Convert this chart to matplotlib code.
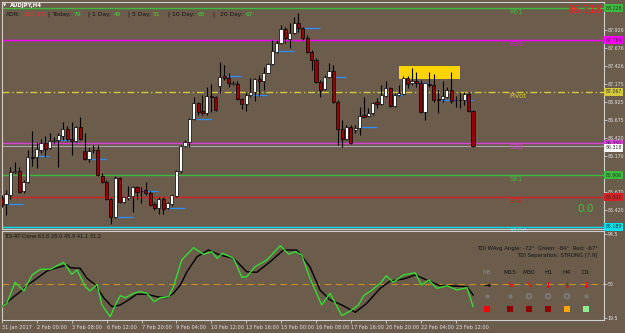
import matplotlib
matplotlib.use('Agg')
import matplotlib.pyplot as plt

W, H = 625, 333
BG = '#6b5c4c'
AXC = '#d0d0d0'

# AUDJPY H4 candles, 31 Jan 2017 16:00 onwards
opens = [85.588, 85.509, 85.634, 85.957, 85.967, 85.689, 85.818, 86.166, 86.157, 86.259,
         86.352, 86.282, 86.384, 86.398, 86.453, 86.554, 86.411, 86.388, 86.574, 86.245,
         86.129, 86.254, 86.259, 85.902, 85.814, 85.574, 85.324, 85.866, 85.541, 85.596,
         85.620, 85.749, 85.689, 85.703, 85.657, 85.509, 85.449, 85.574, 85.449, 85.509,
         85.620, 85.967, 86.314, 86.374, 86.685, 86.907, 86.804, 86.768, 87.009, 86.991,
         87.148, 87.286, 87.254, 87.175, 87.175, 86.963, 86.893, 87.018, 87.068, 87.241,
         87.221, 87.332, 87.453, 87.624, 87.741, 87.935, 87.796, 87.879, 88.018, 87.949,
         87.810, 87.624, 87.509, 87.207, 87.102, 87.268, 87.360, 86.929, 86.546, 86.407,
         86.582, 86.536, 86.568, 86.745, 86.731, 86.768, 86.925, 86.893, 87.013, 87.116,
         86.870, 87.023, 87.032, 87.254, 87.185, 87.221, 87.193, 86.791, 87.175, 87.157,
         86.963, 86.963, 86.999, 87.092, 86.953, 86.949, 86.953, 87.032, 86.804]
highs = [85.634, 85.703, 86.018, 86.096, 86.018, 85.842, 86.259, 86.527, 86.374, 86.416,
         86.453, 86.491, 86.435, 86.491, 86.648, 86.592, 86.643, 86.592, 86.721, 86.491,
         86.282, 86.328, 86.328, 85.935, 85.842, 85.588, 85.898, 85.888, 85.610, 85.759,
         85.759, 85.759, 85.749, 85.818, 85.689, 85.541, 85.610, 85.610, 85.541, 85.648,
         85.981, 86.328, 86.398, 86.699, 86.991, 86.929, 87.023, 87.138, 87.175, 87.009,
         87.485, 87.439, 87.324, 87.221, 87.221, 86.977, 87.046, 87.254, 87.254, 87.300,
         87.416, 87.463, 87.786, 87.786, 87.995, 87.971, 88.018, 88.110, 88.166, 87.971,
         87.856, 87.648, 87.532, 87.231, 87.300, 87.463, 87.439, 86.953, 86.675, 86.606,
         86.606, 86.606, 86.860, 86.999, 86.838, 86.929, 86.977, 87.161, 87.217, 87.138,
         87.046, 87.161, 87.286, 87.286, 87.393, 87.346, 87.231, 87.193, 87.346, 87.314,
         87.092, 87.221, 87.138, 87.346, 87.009, 87.046, 87.068, 87.068, 86.814]
lows = [85.471, 85.356, 85.574, 85.935, 85.657, 85.666, 85.804, 86.036, 86.004, 86.213,
        86.166, 86.268, 86.360, 86.018, 86.398, 86.388, 86.189, 86.374, 86.398, 86.120,
        86.096, 86.221, 85.898, 85.796, 85.564, 85.231, 85.318, 85.527, 85.527, 85.564,
        85.402, 85.582, 85.527, 85.634, 85.485, 85.425, 85.370, 85.370, 85.439, 85.481,
        85.610, 85.935, 86.296, 86.304, 86.675, 86.745, 86.745, 86.745, 86.791, 86.804,
        87.054, 87.231, 87.138, 87.161, 86.953, 86.824, 86.800, 86.999, 86.943, 87.009,
        87.092, 87.324, 87.439, 87.602, 87.731, 87.741, 87.671, 87.870, 87.902, 87.786,
        87.602, 87.370, 87.185, 86.999, 87.092, 87.254, 86.916, 86.328, 86.296, 86.398,
        86.345, 86.491, 86.467, 86.713, 86.721, 86.745, 86.838, 86.884, 86.999, 86.860,
        86.860, 87.009, 87.023, 87.116, 87.161, 87.138, 86.777, 86.675, 87.138, 86.929,
        86.768, 86.929, 86.977, 86.916, 86.860, 86.838, 86.884, 86.791, 86.296]
closes = [85.495, 85.643, 85.957, 85.967, 85.679, 85.818, 86.166, 86.148, 86.268, 86.352,
          86.277, 86.379, 86.391, 86.463, 86.554, 86.407, 86.388, 86.574, 86.416, 86.129,
          86.245, 86.263, 85.907, 85.810, 85.574, 85.324, 85.866, 85.541, 85.602, 85.620,
          85.749, 85.679, 85.685, 85.657, 85.495, 85.449, 85.574, 85.439, 85.518, 85.634,
          85.967, 86.318, 86.374, 86.685, 86.907, 86.791, 86.777, 87.009, 86.991, 86.814,
          87.277, 87.254, 87.193, 87.193, 86.963, 86.893, 87.018, 87.068, 87.241, 87.221,
          87.332, 87.449, 87.638, 87.749, 87.935, 87.810, 87.879, 88.018, 87.949, 87.810,
          87.624, 87.509, 87.207, 87.092, 87.268, 87.360, 86.929, 86.546, 86.416, 86.582,
          86.352, 86.568, 86.731, 86.721, 86.768, 86.916, 86.893, 87.023, 87.116, 86.870,
          87.023, 87.046, 87.254, 87.175, 87.221, 87.193, 86.791, 87.185, 87.157, 86.953,
          86.957, 87.009, 87.092, 86.939, 86.949, 86.953, 87.032, 86.804, 86.318]

time_labels = ['31 Jan 2017', '2 Feb 00:00', '3 Feb 08:00', '6 Feb 12:00', '7 Feb 20:00',
               '9 Feb 04:00', '10 Feb 12:00', '13 Feb 16:00', '15 Feb 00:00', '16 Feb 08:00',
               '17 Feb 16:00', '20 Feb 20:00', '22 Feb 04:00', '23 Feb 12:00']
time_label_bars = [0, 8, 16, 24, 32, 40, 48, 56, 64, 72, 80, 88, 96, 104]

# fibo pivot levels
level_names = ['R61', 'R38', 'Pivot', 'S38', 'S61', 'S78', 'S100']
level_prices = [88.228, 87.784, 87.067, 86.350, 85.906, 85.602, 85.189]
level_colors = ['#3cbc3c', '#ff00ff', '#d6c83c', '#e03ce0', '#3cbc3c', '#d42020', '#00e0f0']
bid = 86.318

# 85.920 sits under the S61 box, so it is left out
price_ticks = [87.926, 87.676, 87.426, 87.175, 86.925, 86.675, 86.420, 86.170, 85.670, 85.420]

# short blue level marks (start bar, end bar, price)
mark_start = [1.2, 8.1, 13.4, 20.2, 26.4, 32.4, 38.1, 44.5, 51.6, 57.4, 63.3, 69.0, 76.4, 82.3, 88.5, 94.3, 100.4, 105.7]
mark_end = [4.9, 10.8, 17.5, 23.9, 30.1, 35.8, 42.0, 47.9, 54.8, 60.8, 67.0, 72.9, 78.9, 86.0, 91.9, 97.9, 104.3, 108.0]
mark_price = [85.504, 86.171, 86.393, 86.130, 85.328, 85.685, 85.449, 86.685, 87.286, 87.023,
              87.634, 87.949, 87.268, 86.574, 87.023, 87.185, 86.953, 86.953]

# yellow zone
zone_bars = (91.0, 105.0)
zone_prices = (87.245, 87.425)

# TDI lines (bar, value)
green_x = [0, 1.1, 3.0, 5.0, 6.9, 8.8, 11.1, 14.1, 16.0, 17.2, 19.1, 20.2, 21.8, 22.9, 24.8, 26.0,
           27.1, 28.3, 30.2, 31.7, 33.2, 34.9, 36.3, 38.2, 39.3, 41.2, 43.9, 46.2, 48.1, 49.3,
           50.6, 53.1, 55.0, 56.1, 58.0, 60.7, 63.8, 65.7, 67.2, 68.7, 70.6, 73.3, 75.2, 77.9,
           79.8, 81.7, 82.9, 84.8, 86.7, 88.1, 89.7, 92.0, 94.7, 96.2, 97.8, 99.7, 102.0, 104.3,
           106.6, 108.0]
green_v = [29.6, 32.6, 51.4, 43.6, 57.9, 63.0, 63.0, 69.2, 58.5, 62.4, 47.4, 43.6, 49.6, 31.1,
           20.7, 31.1, 39.4, 37.6, 41.6, 43.0, 41.6, 34.1, 37.6, 38.5, 47.4, 71.3, 82.3, 76.4,
           78.7, 72.8, 77.3, 72.8, 55.8, 56.4, 65.3, 71.3, 84.1, 76.4, 78.7, 75.7, 54.9, 31.1,
           41.6, 21.6, 25.7, 31.1, 39.4, 44.5, 50.5, 57.3, 51.4, 57.9, 59.9, 49.0, 53.4, 46.0,
           48.3, 44.5, 46.6, 29.6]
black_x = [0, 2.7, 4.2, 6.1, 8.0, 10.3, 12.6, 14.9, 15.7, 17.9, 19.5, 21.4, 23.3, 25.2, 27.1,
           29.0, 30.9, 33.2, 35.5, 37.8, 39.3, 40.9, 42.4, 44.7, 47.3, 50.0, 53.1, 56.1, 58.4,
           61.5, 64.5, 67.6, 70.6, 72.9, 75.2, 77.9, 81.0, 83.6, 86.7, 89.0, 92.0, 94.7, 97.4,
           100.4, 103.5, 106.6, 108.0]
black_v = [29.6, 38.5, 43.0, 49.6, 54.9, 61.5, 64.4, 66.8, 64.4, 63.9, 54.9, 49.0, 37.6, 29.6,
           31.1, 35.6, 40.7, 40.7, 38.5, 37.6, 41.6, 49.0, 60.8, 74.2, 80.2, 75.7, 72.8, 60.8,
           60.3, 69.8, 80.2, 80.2, 65.3, 44.5, 35.6, 31.1, 24.6, 32.6, 46.0, 52.5, 54.3, 57.9,
           53.4, 48.3, 48.1, 47.4, 40.0]

adr_pct = '120.1%'
adr_labels = ['Today:', '1 Day:', '5 Day:', '10 Day:', '20 Day:']
adr_values = ['79', '49', '51', '65', '67']

tf_names = ['M5', 'M15', 'M30', 'H1', 'H4', 'D1']
tf_arrows = ['\u2192', '\u2198', '\u2198', '\u2193', '\u2193', '\u2193']
tf_arrow_colors = ['black', 'red', 'red', 'red', 'red', 'red']
tf_ring = [False, False, True, True, True, False]
tf_box_colors = ['#ff0000', '#8b0000', '#8b0000', '#8b0000', '#ffa500', '#90ee90']


fig = plt.figure(figsize=(W / 100, H / 100), dpi=100, facecolor=BG)


def px_axes(x0, y0, x1, y1):
    return fig.add_axes([x0 / W, 1 - y1 / H, (x1 - x0) / W, (y1 - y0) / H])


def ptext(x, y, s, **kw):
    fig.text(x / W, 1 - y / H, s, **kw)


ax = px_axes(2, 2, 604, 229)
ax2 = px_axes(2, 231, 604, 320)
for a in (ax, ax2):
    a.set_facecolor(BG)
    a.set_xlim(0.07, 138.0)
    for sp in a.spines.values():
        sp.set_color(AXC)
        sp.set_linewidth(0.8)

ax.set_ylim(85.161, 88.314)
ax2.set_ylim(17.7, 97.2)

# pivot levels
for name, p, c in zip(level_names, level_prices, level_colors):
    if name == 'Pivot':
        ax.axhline(p, color=c, lw=1.0, ls=(0, (5, 2, 1, 2)), zorder=1)
    else:
        ax.axhline(p, color=c, lw=1.0, zorder=1)
    ax.text(116.3, p - 0.012, name, color=c, fontsize=5, va='top', ha='left', zorder=2)
ax.axhline(bid, color='#a8a8a8', lw=0.8, zorder=1)

# yellow zone
ax.add_patch(plt.Rectangle((zone_bars[0], zone_prices[0]), zone_bars[1] - zone_bars[0],
                           zone_prices[1] - zone_prices[0], fc='#ffd400', ec='none', zorder=1.5))

# blue marks
ax.hlines(mark_price, mark_start, mark_end, color='#2f8fff', lw=0.9, zorder=2)

# candles
idx = list(range(len(opens)))
ax.vlines(idx, lows, highs, color='black', lw=0.8, zorder=3)
bottoms = [min(o, c) for o, c in zip(opens, closes)]
heights = [max(abs(c - o), 0.006) for o, c in zip(opens, closes)]
cols = ['white' if c >= o else '#9a0000' for o, c in zip(opens, closes)]
ax.bar(idx, heights, bottom=bottoms, width=0.72, color=cols, edgecolor='black',
       linewidth=0.5, zorder=4)

# right price axis
ax.set_xticks([])
ax.set_yticks(price_ticks)
ax.set_yticklabels(['%.3f' % t for t in price_ticks])
ax.tick_params(axis='y', left=False, labelleft=False, right=True, labelright=True,
               length=2, width=0.6, color=AXC, labelcolor='#e4e4e4', labelsize=3.4, pad=0.8)
for p, c in zip(level_prices, level_colors):
    ax.text(1.002, p, '%.3f' % p, transform=ax.get_yaxis_transform(), fontsize=3.3,
            color='#303030', va='center', ha='left', clip_on=False, zorder=10,
            bbox=dict(boxstyle='square,pad=0.3', fc=c, ec='none'))
# bid label hangs just under the S38 box
ax.text(1.002, bid - 0.03, '%.3f' % bid, transform=ax.get_yaxis_transform(), fontsize=3.3,
        color='#303030', va='center', ha='left', clip_on=False, zorder=11,
        bbox=dict(boxstyle='square,pad=0.3', fc='white', ec='none'))

ax.text(137.6, 88.203, '86.318', color='#ff1a1a', fontsize=7.2, ha='right', va='center', zorder=6)
ax.text(131.8, 85.44, '0.0', color='#33cc33', fontsize=7.5, ha='left', va='center', zorder=6)

# header
ptext(3, 5.5, '\u25bc', color='white', fontsize=3, va='center')
ptext(9.5, 5.5, 'AUDJPY,H4', color='white', fontsize=3.9, fontweight='bold', va='center')
dark = '#141414'
green = '#33e033'
ptext(6, 14.5, 'ADR:', color=dark, fontsize=4.3, va='center')
ptext(23.5, 14.5, adr_pct, color='#ff2a2a', fontsize=4.3, va='center')
sep_x = [47.5, 87.5, 127.5, 167.5, 212.5]
lab_x = [52.5, 92.5, 131.5, 171.5, 219.5]
val_x = [73.5, 113.5, 152.5, 197.5, 245.5]
for sx, lx, vx, lab, val in zip(sep_x, lab_x, val_x, adr_labels, adr_values):
    ptext(sx, 14.5, '|', color=dark, fontsize=4.3, va='center')
    ptext(lx, 14.5, lab, color=dark, fontsize=4.3, va='center')
    ptext(vx, 14.5, val, color=green, fontsize=4.3, va='center')

# TDI panel
ax2.axhline(50, color='#c8901c', lw=0.8, ls=(0, (6, 4)), zorder=1)
ax2.plot(black_x, black_v, color='black', lw=1.0, zorder=3)
ax2.plot(green_x, green_v, color='#33dd33', lw=1.0, zorder=4)
ax2.set_yticks([94.5, 50, 19.5])
ax2.set_yticklabels(['94.5', '50', '19.5'])
ax2.tick_params(axis='y', left=False, labelleft=False, right=True, labelright=True,
                length=2, width=0.6, color=AXC, labelcolor='#e4e4e4', labelsize=3.4, pad=0.8)
ax2.set_xticks(time_label_bars)
ax2.set_xticklabels(time_labels)
ax2.tick_params(axis='x', length=2, width=0.6, color=AXC, labelcolor='#e4e4e4',
                labelsize=3.6, pad=1.5)
for lbl in ax2.get_xticklabels():
    lbl.set_ha('left')

ptext(4, 236, 'TDI-RT-Clone 63.8 28.0 45.9 41.1 31.2', color=dark, fontsize=3.7, va='center')
ptext(598, 248.5, 'TDI WAvg Angle: -72\u00b0  Green: -84\u00b0  Red: -67\u00b0', color=dark,
      fontsize=3.9, va='center', ha='right')
ptext(598, 256, 'TDI Seperation: STRONG [7.9]', color=dark, fontsize=3.9, va='center', ha='right')

tf_x = [111.2, 116.5, 120.8, 125.2, 129.5, 133.9]
for i, (x, name) in enumerate(zip(tf_x, tf_names)):
    ax2.text(x, 60.5, name, color='#8c8c8c' if i == 0 else dark, fontsize=4.3,
             ha='center', va='center', zorder=5)
    ax2.text(x, 48.9, tf_arrows[i], color=tf_arrow_colors[i], fontsize=6, fontweight='bold',
             ha='center', va='center', zorder=5)
    if tf_ring[i]:
        ax2.scatter([x], [39.0], s=12, facecolor='none', edgecolor='#808080', lw=1.1, zorder=5)
    else:
        ax2.scatter([x], [39.0], s=9, color='#7a7a7a', lw=0, zorder=5)
    ax2.scatter([x], [27.4], s=14, marker='s', color=tf_box_colors[i], lw=0, zorder=5)

fig.savefig('out.png', dpi=100, facecolor=BG)
